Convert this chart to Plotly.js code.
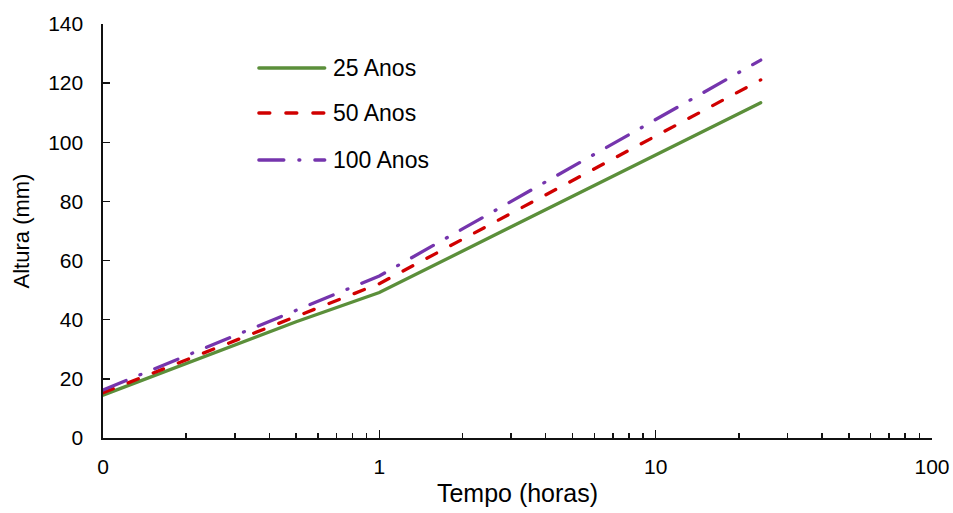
<!DOCTYPE html>
<html>
<head>
<meta charset="utf-8">
<script src="https://cdn.plot.ly/plotly-3.0.1.min.js"></script>
<style>
html,body{margin:0;padding:0;background:#fff;}
#chart{width:953px;height:513px;}
path.js-line{stroke-linecap:round !important;}
.shapelayer path{stroke-linecap:round !important;}
</style>
</head>
<body>
<div id="chart"></div>
<script>
// Duration (hours)
var horas = [0.1, 0.2, 0.5, 1, 2, 6, 12, 24];
// Rainfall height (mm) per return period
var anos25  = [14.5, 25.2, 39.3, 49.2, 63.2, 85.5, 99.5, 113.4];
var anos50  = [15.3, 26.4, 41.2, 52.2, 67.2, 91.0, 106.0, 121.1];
var anos100 = [16.2, 27.8, 43.2, 54.8, 70.7, 96.0, 111.9, 127.8];

var seriesNames = ['25 Anos', '50 Anos', '100 Anos'];
var xTickVals = [0.1, 1, 10, 100];
var xTickText = ['0', '1', '10', '100'];
var yTickVals = [0, 20, 40, 60, 80, 100, 120, 140];

var colors = ['#5b8f3a', '#d00000', '#7535ad'];
var dashes = ['solid', '11px,16px', '25px,15px,1px,15px'];
var seriesY = [anos25, anos50, anos100];

var minorVals = [];
[0.1, 1, 10].forEach(function (d) {
  for (var k = 2; k <= 9; k++) minorVals.push(+(d * k).toFixed(3));
});

var FONT = 'Liberation Sans, Arial, sans-serif';

var traces = seriesY.map(function (ys, i) {
  return {
    x: horas, y: ys, name: seriesNames[i], type: 'scatter', mode: 'lines',
    line: {color: colors[i], width: 3.3, dash: dashes[i]},
    showlegend: false
  };
});

// custom legend (sample lines + labels)
var legY = [0.8937, 0.785, 0.6715];
var shapes = [], annotations = [];
seriesNames.forEach(function (n, i) {
  shapes.push({type: 'line', xref: 'paper', yref: 'paper',
    x0: 0.188, x1: 0.2675, y0: legY[i], y1: legY[i],
    line: {color: colors[i], width: 3.3, dash: dashes[i]}});
  annotations.push({xref: 'paper', yref: 'paper', x: 0.2745, y: legY[i],
    xanchor: 'left', yanchor: 'middle', showarrow: false, text: n,
    font: {family: FONT, size: 23, color: '#000'}});
});

var layout = {
  width: 953, height: 513,
  margin: {l: 103, r: 21, t: 24, b: 75},
  paper_bgcolor: '#fff', plot_bgcolor: '#fff',
  font: {family: FONT, size: 21, color: '#000'},
  showlegend: false,
  xaxis: {
    type: 'log', range: [-1, 2],
    tickmode: 'array', tickvals: xTickVals, ticktext: xTickText,
    ticks: 'inside', ticklen: 8, tickwidth: 1.5, tickcolor: '#111',
    minor: {tickmode: 'array', tickvals: minorVals, ticks: 'inside', ticklen: 5, tickwidth: 1.5, tickcolor: '#111', showgrid: false},
    showline: true, linecolor: '#111', linewidth: 1.6,
    showgrid: false, zeroline: false,
    ticklabelstandoff: 9,
    tickfont: {family: FONT, size: 21},
    title: {text: 'Tempo (horas)', font: {family: FONT, size: 25}, standoff: 8}
  },
  yaxis: {
    range: [0, 140], tickmode: 'array', tickvals: yTickVals,
    ticks: 'inside', ticklen: 7, tickwidth: 1.5, tickcolor: '#111',
    showline: true, linecolor: '#111', linewidth: 1.6,
    showgrid: false, zeroline: false,
    ticklabelstandoff: 14,
    tickfont: {family: FONT, size: 21},
    title: {text: 'Altura (mm)', font: {family: FONT, size: 22}, standoff: 12}
  },
  shapes: shapes,
  annotations: annotations
};

Plotly.newPlot('chart', traces, layout, {displayModeBar: false, staticPlot: true});
</script>
</body>
</html>
